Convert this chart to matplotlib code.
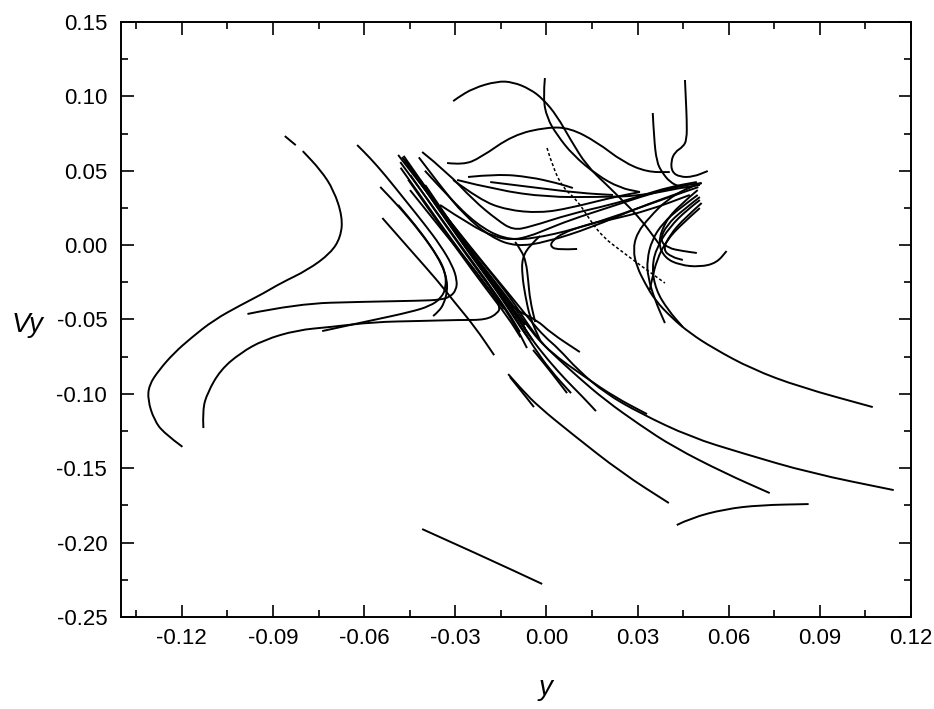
import matplotlib.pyplot as plt
from matplotlib.path import Path
from matplotlib.patches import PathPatch
from matplotlib.ticker import MultipleLocator, FormatStrFormatter

plt.rcParams['font.family'] = ['Liberation Sans', 'DejaVu Sans']

# trajectories in the (y, Vy) plane
a_y = [-0.1198, -0.1259, -0.1291, -0.1312, -0.1308, -0.1275, -0.1226, -0.1170, -0.1095, -0.1006,
       -0.0930, -0.0874, -0.0786, -0.0710, -0.0677, -0.0671, -0.0700, -0.0743, -0.0802]
a_vy = [-0.1356, -0.1264, -0.1176, -0.1042, -0.0941, -0.0840, -0.0726, -0.0625, -0.0504, -0.0403,
        -0.0323, -0.0255, -0.0168, -0.0054, 0.0054, 0.0188, 0.0370, 0.0504, 0.0632]
a2_y = [-0.0861, -0.0825]
a2_vy = [0.0733, 0.0672]

b_y = [-0.0738, -0.0662, -0.0570, -0.0448, -0.0383, -0.0346, -0.0330, -0.0333, -0.0356, -0.0415, -0.0481, -0.0547]
b_vy = [-0.0578, -0.0544, -0.0504, -0.0450, -0.0410, -0.0356, -0.0282, -0.0181, -0.0080, 0.0088, 0.0249, 0.0391]

c_y = [-0.1129, -0.1132, -0.1116, -0.1073, -0.1007, -0.0931, -0.0820, -0.0711, -0.0570, -0.0415, -0.0284,
       -0.0199, -0.0159, -0.0153, -0.0169, -0.0195, -0.0228, -0.0268, -0.0317, -0.0383, -0.0449]
c_vy = [-0.1230, -0.1109, -0.0994, -0.0840, -0.0725, -0.0638, -0.0571, -0.0551, -0.0517, -0.0510, -0.0503,
        -0.0503, -0.0456, -0.0416, -0.0349, -0.0282, -0.0188, -0.0087, 0.0034, 0.0202, 0.0370]

d_y = [-0.0984, -0.0820, -0.0603, -0.0415, -0.0350, -0.0317, -0.0297, -0.0294, -0.0310, -0.0350, -0.0399,
       -0.0465, -0.0531, -0.0580, -0.0623]
d_vy = [-0.0463, -0.0394, -0.0381, -0.0374, -0.0368, -0.0348, -0.0302, -0.0235, -0.0134, 0.0001, 0.0135,
        0.0303, 0.0471, 0.0585, 0.0673]

e_y = [-0.0540, -0.0439, -0.0360, -0.0300, -0.0235, -0.0172]
e_vy = [0.0182, -0.0053, -0.0235, -0.0390, -0.0551, -0.0740]

f_y = [-0.0373, -0.0353, -0.0337, -0.0327, -0.0327, -0.0343, -0.0383, -0.0432, -0.0488]
f_vy = [-0.0477, -0.0444, -0.0390, -0.0316, -0.0235, -0.0134, 0.0001, 0.0135, 0.0270]

# dense band going down to the long tails
l1_y = [-0.0488, -0.0399, -0.0300, -0.0202, -0.0120, -0.0054, -0.0005, 0.0038, 0.0104, 0.0193, 0.0308,
        0.0475, 0.0643, 0.0870, 0.1143]
l1_vy = [0.0606, 0.0370, 0.0115, -0.0134, -0.0336, -0.0504, -0.0618, -0.0692, -0.0840, -0.0995, -0.1130,
         -0.1291, -0.1398, -0.1533, -0.1647]
l2_y = [-0.0475, -0.0383, -0.0284, -0.0185, -0.0113, -0.0060, -0.0015, 0.0025, 0.0104, 0.0193, 0.0308,
        0.0419, 0.0587, 0.0735]
l2_vy = [0.0592, 0.0337, 0.0068, -0.0181, -0.0369, -0.0537, -0.0658, -0.0739, -0.0887, -0.1042, -0.1210,
         -0.1358, -0.1533, -0.1667]
l3_y = [-0.0465, -0.0373, -0.0277, -0.0179, -0.0110, -0.0054, 0.0012, 0.0127, 0.0225, 0.0331]
l3_vy = [0.0572, 0.0303, 0.0034, -0.0221, -0.0403, -0.0571, -0.0719, -0.0887, -0.1022, -0.1136]
l4_y = [-0.0455, -0.0363, -0.0268, -0.0172, -0.0107, -0.0054, 0.0005, 0.0064, 0.0117, 0.0163]
l4_vy = [0.0539, 0.0270, 0.0001, -0.0255, -0.0450, -0.0618, -0.0772, -0.0907, -0.1015, -0.1116]
l5_y = [-0.0442, -0.0350, -0.0258, -0.0162, -0.0103, -0.0031, 0.0015, 0.0110]
l5_vy = [0.0505, 0.0236, -0.0033, -0.0288, -0.0436, -0.0504, -0.0591, -0.0719]
l6_y = [-0.0429, -0.0337, -0.0245, -0.0153, -0.0093, -0.0044, 0.0012, 0.0081]
l6_vy = [0.0464, 0.0196, -0.0080, -0.0336, -0.0517, -0.0679, -0.0840, -0.0995]
l7_y = [-0.0415, -0.0323, -0.0228, -0.0143, -0.0080, -0.0054]
l7_vy = [0.0438, 0.0155, -0.0114, -0.0369, -0.0571, -0.0638]
l8_y = [-0.0481, -0.0389, -0.0291, -0.0199, -0.0126, -0.0087]
l8_vy = [0.0558, 0.0303, 0.0021, -0.0235, -0.0450, -0.0584]
l9_y = [-0.0399, -0.0310, -0.0218, -0.0133, -0.0070]
l9_vy = [0.0404, 0.0135, -0.0134, -0.0369, -0.0537]
l10_y = [-0.0448, -0.0356, -0.0261, -0.0169, -0.0103, -0.0064]
l10_vy = [0.0471, 0.0202, -0.0073, -0.0329, -0.0537, -0.0692]
l11_y = [-0.0470, -0.0378, -0.0280, -0.0190, -0.0118, -0.0070]
l11_vy = [0.0600, 0.0330, 0.0050, -0.0200, -0.0400, -0.0560]
l12_y = [-0.0462, -0.0370, -0.0272, -0.0182, -0.0112, -0.0060]
l12_vy = [0.0560, 0.0290, 0.0010, -0.0240, -0.0430, -0.0600]
l13_y = [-0.0450, -0.0358, -0.0262, -0.0170, -0.0100, -0.0045]
l13_vy = [0.0520, 0.0250, -0.0030, -0.0280, -0.0470, -0.0640]
l14_y = [-0.0436, -0.0345, -0.0250, -0.0158, -0.0090]
l14_vy = [0.0490, 0.0220, -0.0060, -0.0310, -0.0500]
l15_y = [-0.0455, -0.0380, -0.0290, -0.0200, -0.0125, -0.0085]
l15_vy = [0.0440, 0.0220, -0.0040, -0.0290, -0.0490, -0.0620]
l16_y = [-0.0480, -0.0400, -0.0310, -0.0215, -0.0140]
l16_vy = [0.0520, 0.0290, 0.0030, -0.0230, -0.0430]

t3_y = [-0.0126, -0.0080, -0.0024, 0.0081, 0.0249, 0.0403]
t3_vy = [-0.0867, -0.0974, -0.1089, -0.1264, -0.1533, -0.1734]
s1s_y = [-0.0044, 0.0002, 0.0035, 0.0068]
s1s_vy = [-0.0705, -0.0820, -0.0907, -0.0995]
s2s_y = [-0.0120, -0.0080, -0.0041]
s2s_vy = [-0.0887, -0.0988, -0.1089]

u_y = [-0.0021, -0.0054, -0.0080, -0.0080, -0.0070, -0.0054, -0.0021]
u_vy = [0.0061, 0.0001, -0.0087, -0.0201, -0.0336, -0.0490, -0.0638]
u2_y = [-0.0103, -0.0083, -0.0067, -0.0060, -0.0054, -0.0037]
u2_vy = [0.0021, -0.0033, -0.0114, -0.0235, -0.0369, -0.0517]

# branches running to the right, upper middle
s1_y = [-0.0409, -0.0327, -0.0241, -0.0162, -0.0110, -0.0054, 0.0078, 0.0209, 0.0308, 0.0406, 0.0495]
s1_vy = [0.0626, 0.0491, 0.0303, 0.0169, 0.0101, 0.0122, 0.0209, 0.0270, 0.0330, 0.0391, 0.0424]
s2_y = [-0.0307, -0.0218, -0.0130, -0.0021, 0.0078, 0.0209, 0.0308]
s2_vy = [0.0438, 0.0303, 0.0236, 0.0216, 0.0249, 0.0317, 0.0357]
s3_y = [-0.0350, -0.0251, -0.0169, -0.0110, -0.0054, -0.0005, 0.0078, 0.0209, 0.0340, 0.0439, 0.0511]
s3_vy = [0.0270, 0.0135, 0.0054, 0.0034, 0.0061, 0.0101, 0.0169, 0.0256, 0.0344, 0.0398, 0.0417]
v1_y = [-0.0420, -0.0350, -0.0270, -0.0180, -0.0100, 0.0000, 0.0150, 0.0300, 0.0450]
v1_vy = [0.0590, 0.0400, 0.0200, 0.0050, -0.0010, 0.0020, 0.0120, 0.0250, 0.0360]
v2_y = [-0.0400, -0.0320, -0.0230, -0.0140, -0.0050, 0.0100, 0.0250, 0.0400, 0.0500]
v2_vy = [0.0500, 0.0320, 0.0140, 0.0040, 0.0040, 0.0110, 0.0210, 0.0320, 0.0390]
k_y = [-0.0258, -0.0162, -0.0054, 0.0035, 0.0087]
k_vy = [0.0458, 0.0478, 0.0458, 0.0417, 0.0384]
l_y = [-0.0185, -0.0054, 0.0110, 0.0219]
l_vy = [0.0424, 0.0391, 0.0350, 0.0337]
m_y = [-0.0294, -0.0162, 0.0002, 0.0166, 0.0308, 0.0439, 0.0505]
m_vy = [0.0438, 0.0370, 0.0323, 0.0323, 0.0330, 0.0384, 0.0404]

dome_y = [-0.0327, -0.0274, -0.0218, -0.0110, 0.0002, 0.0078, 0.0166, 0.0252, 0.0331, 0.0406]
dome_vy = [0.0552, 0.0539, 0.0586, 0.0740, 0.0793, 0.0787, 0.0693, 0.0559, 0.0491, 0.0491]
g_y = [-0.0307, -0.0294, -0.0241, -0.0162, -0.0110, -0.0054, -0.0011, 0.0035, 0.0078, 0.0133, 0.0199,
       0.0242, 0.0308, 0.0373]
g_vy = [0.0968, 0.0988, 0.1055, 0.1102, 0.1096, 0.1049, 0.0982, 0.0868, 0.0713, 0.0532, 0.0404,
        0.0317, 0.0182, 0.0001]
h_y = [-0.0005, -0.0011, 0.0002, 0.0035, 0.0087, 0.0166, 0.0242, 0.0308]
h_vy = [0.1123, 0.0989, 0.0854, 0.0740, 0.0606, 0.0471, 0.0384, 0.0357]
j_y = [0.0002, 0.0022, 0.0055, 0.0101, 0.0143, 0.0186, 0.0242, 0.0308, 0.0390]
j_vy = [0.0653, 0.0518, 0.0384, 0.0303, 0.0169, 0.0054, -0.0033, -0.0134, -0.0255]
n_y = [0.0101, 0.0035, 0.0012, 0.0022, 0.0055, 0.0110, 0.0166, 0.0209, 0.0340, 0.0472]
n_vy = [-0.0026, -0.0033, -0.0006, 0.0034, 0.0081, 0.0122, 0.0155, 0.0169, 0.0236, 0.0337]

# upper right
p_y = [0.0456, 0.0459, 0.0462, 0.0462, 0.0449, 0.0423, 0.0410, 0.0413, 0.0439, 0.0482, 0.0531]
p_vy = [0.1110, 0.0975, 0.0841, 0.0707, 0.0660, 0.0626, 0.0565, 0.0491, 0.0458, 0.0458, 0.0498]
q_y = [0.0350, 0.0354, 0.0363, 0.0380, 0.0406, 0.0439, 0.0472]
q_vy = [0.0888, 0.0720, 0.0559, 0.0491, 0.0424, 0.0391, 0.0384]

r1_y = [0.0511, 0.0462, 0.0396, 0.0340, 0.0298, 0.0285, 0.0298, 0.0324, 0.0357, 0.0413, 0.0472, 0.0548,
        0.0676, 0.0834, 0.1074]
r1_vy = [0.0417, 0.0384, 0.0303, 0.0189, 0.0081, -0.0033, -0.0147, -0.0255, -0.0369, -0.0490, -0.0591,
         -0.0692, -0.0833, -0.0954, -0.1089]
r2_y = [0.0498, 0.0439, 0.0383, 0.0347, 0.0331, 0.0334, 0.0357, 0.0390]
r2_vy = [0.0337, 0.0249, 0.0148, 0.0034, -0.0100, -0.0215, -0.0369, -0.0524]
r3_y = [0.0505, 0.0462, 0.0406, 0.0363, 0.0347, 0.0360, 0.0400, 0.0449]
r3_vy = [0.0303, 0.0236, 0.0122, -0.0013, -0.0147, -0.0302, -0.0436, -0.0551]
r4_y = [0.0505, 0.0449, 0.0396, 0.0363, 0.0347, 0.0340]
r4_vy = [0.0249, 0.0148, 0.0034, -0.0100, -0.0235, -0.0302]
r5_y = [0.0505, 0.0449, 0.0396, 0.0373, 0.0400, 0.0449, 0.0495]
r5_vy = [0.0323, 0.0236, 0.0135, 0.0034, -0.0020, -0.0040, -0.0053]
r6_y = [0.0511, 0.0455, 0.0406, 0.0383, 0.0413, 0.0449]
r6_vy = [0.0283, 0.0182, 0.0068, -0.0033, -0.0080, -0.0100]
r7_y = [0.0498, 0.0439, 0.0390, 0.0367, 0.0390, 0.0439, 0.0505, 0.0560, 0.0593]
r7_vy = [0.0370, 0.0270, 0.0155, 0.0014, -0.0087, -0.0134, -0.0147, -0.0120, -0.0040]

# isolated pieces at the bottom
bl_y = [-0.0409, -0.0212, -0.0014]
bl_vy = [-0.1909, -0.2090, -0.2278]
br_y = [0.0429, 0.0475, 0.0587, 0.0702, 0.0863]
br_vy = [-0.1882, -0.1835, -0.1775, -0.1748, -0.1741]

solid = [(a_y, a_vy), (a2_y, a2_vy), (b_y, b_vy), (c_y, c_vy), (d_y, d_vy), (e_y, e_vy), (f_y, f_vy),
         (l1_y, l1_vy), (l2_y, l2_vy), (l3_y, l3_vy), (l4_y, l4_vy), (l5_y, l5_vy), (l6_y, l6_vy),
         (l7_y, l7_vy), (l8_y, l8_vy), (l9_y, l9_vy), (l10_y, l10_vy), (l11_y, l11_vy),
         (l12_y, l12_vy), (l13_y, l13_vy), (l14_y, l14_vy), (l15_y, l15_vy), (l16_y, l16_vy),
         (t3_y, t3_vy), (s1s_y, s1s_vy), (s2s_y, s2s_vy), (u_y, u_vy), (u2_y, u2_vy),
         (s1_y, s1_vy), (s2_y, s2_vy), (s3_y, s3_vy), (v1_y, v1_vy), (v2_y, v2_vy),
         (k_y, k_vy), (l_y, l_vy), (m_y, m_vy),
         (dome_y, dome_vy), (g_y, g_vy), (h_y, h_vy), (n_y, n_vy), (p_y, p_vy), (q_y, q_vy),
         (r1_y, r1_vy), (r2_y, r2_vy), (r3_y, r3_vy), (r4_y, r4_vy), (r5_y, r5_vy), (r6_y, r6_vy),
         (r7_y, r7_vy), (bl_y, bl_vy), (br_y, br_vy)]


def smooth(xs, ys):
    # quadratic bezier through the midpoints, so the traced points give a round curve
    pts = list(zip(xs, ys))
    if len(pts) < 3:
        return Path(pts)
    verts = [pts[0]]
    codes = [Path.MOVETO]
    for i in range(1, len(pts) - 1):
        mid = ((pts[i][0] + pts[i + 1][0]) / 2, (pts[i][1] + pts[i + 1][1]) / 2)
        verts += [pts[i], mid]
        codes += [Path.CURVE3, Path.CURVE3]
    verts.append(pts[-1])
    codes.append(Path.LINETO)
    return Path(verts, codes)


fig = plt.figure(figsize=(9.34, 7.09), dpi=100)
ax = fig.add_axes([0.1296, 0.1298, 0.8458, 0.8392])

for xs, ys in solid:
    ax.add_patch(PathPatch(smooth(xs, ys), fill=False, edgecolor='black', lw=1.4, capstyle='butt'))
ax.add_patch(PathPatch(smooth(j_y, j_vy), fill=False, edgecolor='black', lw=1.1, linestyle=(0, (2, 1.5))))

ax.set_xlim(-0.14, 0.12)
ax.set_ylim(-0.25, 0.15)
ax.xaxis.set_major_locator(MultipleLocator(0.03))
ax.xaxis.set_minor_locator(MultipleLocator(0.015))
ax.yaxis.set_major_locator(MultipleLocator(0.05))
ax.yaxis.set_minor_locator(MultipleLocator(0.025))
ax.xaxis.set_major_formatter(FormatStrFormatter('%.2f'))
ax.yaxis.set_major_formatter(FormatStrFormatter('%.2f'))

ax.tick_params(which='both', direction='in', top=True, right=True, width=1.2, labelsize=16)
ax.tick_params(which='major', length=9)
ax.tick_params(which='minor', length=5)
ax.tick_params(axis='x', pad=8)
ax.tick_params(axis='y', pad=10)
for s in ax.spines.values():
    s.set_linewidth(1.4)

ax.set_xlabel('y', fontsize=20, fontstyle='italic', va='center')
ax.set_ylabel('Vy', fontsize=20, fontstyle='italic', rotation=0, ha='center', va='center')
ax.xaxis.set_label_coords(0.537, -0.12)
ax.yaxis.set_label_coords(-0.118, 0.49)

fig.savefig('out.png', dpi=100)
